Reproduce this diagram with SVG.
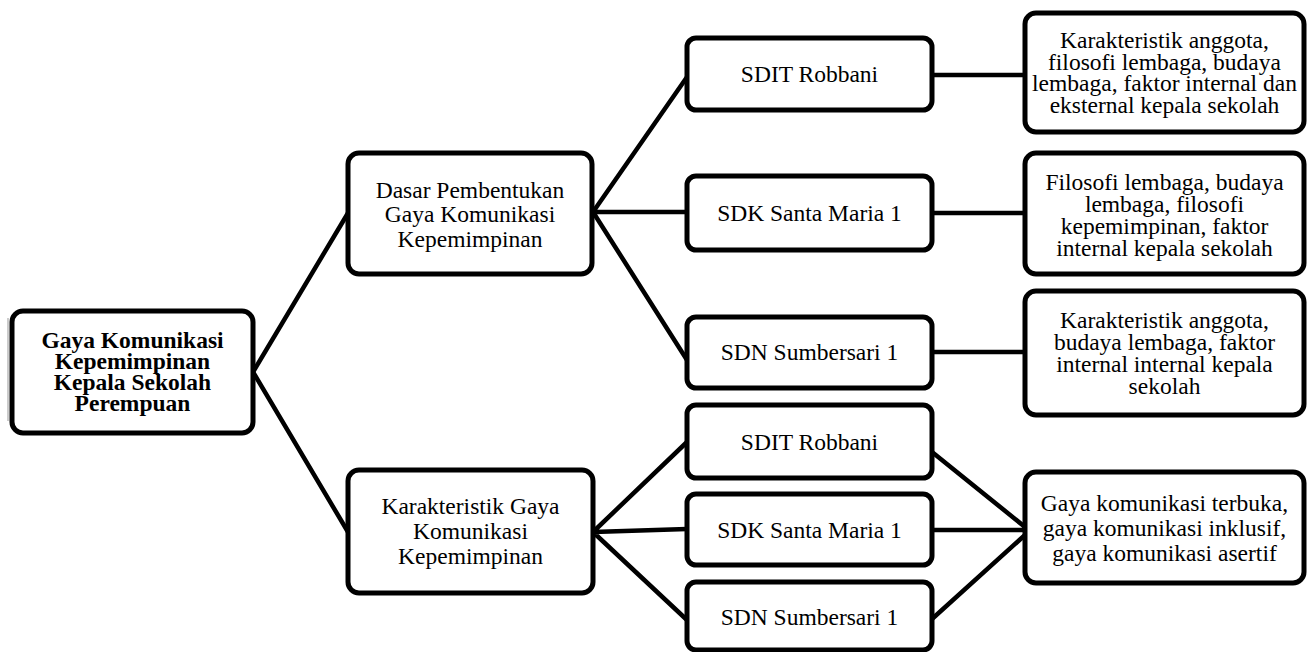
<svg xmlns="http://www.w3.org/2000/svg" width="1307" height="652" viewBox="0 0 1307 652">
<style>
.box{fill:#fff;stroke:#000;stroke-width:5}
.t{font-family:"Liberation Serif","Times New Roman",serif;font-size:23.5px;fill:#000;text-anchor:middle}
.b{font-weight:bold}
.c{stroke:#000;stroke-width:4.5;fill:none;stroke-linecap:round}
</style>
<rect width="1307" height="652" fill="#fff"/>
<line x1="8" y1="318" x2="8" y2="421" stroke="#aaa" stroke-width="1.2"/>
<g id="connectors">
<path class="c" d="M253 372 L348 213 M253 372 L348 532"/>
<path class="c" d="M593 212 L687 77 M593 212 L687 212 M593 212 L687 360"/>
<path class="c" d="M932 75 L1025 75 M932 213 L1025 213 M932 352 L1025 352"/>
<path class="c" d="M593 532 L687 442 M593 532 L687 529 M593 532 L687 620"/>
<path class="c" d="M932 452 L1025 527 M932 530 L1025 530 M932 619 L1025 535"/>
</g>
<g id="root">
<rect class="box" x="12" y="311" width="241" height="122" rx="11"/>
<text class="t b" x="132.5"><tspan x="132.5" y="348">Gaya Komunikasi</tspan><tspan x="132.5" y="369">Kepemimpinan</tspan><tspan x="132.5" y="390">Kepala Sekolah</tspan><tspan x="132.5" y="411">Perempuan</tspan></text>
</g>
<g id="dasar">
<rect class="box" x="348" y="153" width="244" height="121" rx="11"/>
<text class="t"><tspan x="470" y="197.5">Dasar Pembentukan</tspan><tspan x="470" y="222">Gaya Komunikasi</tspan><tspan x="470" y="246.5">Kepemimpinan</tspan></text>
</g>
<g id="karakteristik">
<rect class="box" x="348" y="470" width="245" height="123" rx="11"/>
<text class="t"><tspan x="470.5" y="514">Karakteristik Gaya</tspan><tspan x="470.5" y="539">Komunikasi</tspan><tspan x="470.5" y="564">Kepemimpinan</tspan></text>
</g>
<g id="sdit1">
<rect class="box" x="687" y="38" width="245" height="72" rx="9"/>
<text class="t" x="809.5" y="82">SDIT Robbani</text>
</g>
<g id="sdk1">
<rect class="box" x="687" y="176" width="245" height="74" rx="9"/>
<text class="t" x="809.5" y="221">SDK Santa Maria 1</text>
</g>
<g id="sdn1">
<rect class="box" x="687" y="317" width="245" height="71" rx="9"/>
<text class="t" x="809.5" y="360">SDN Sumbersari 1</text>
</g>
<g id="sdit2">
<rect class="box" x="687" y="405" width="245" height="73" rx="9"/>
<text class="t" x="809.5" y="449.5">SDIT Robbani</text>
</g>
<g id="sdk2">
<rect class="box" x="687" y="494" width="245" height="71" rx="9"/>
<text class="t" x="809.5" y="537.5">SDK Santa Maria 1</text>
</g>
<g id="sdn2">
<rect class="box" x="687" y="582" width="245" height="68" rx="9"/>
<text class="t" x="809.5" y="625">SDN Sumbersari 1</text>
</g>
<g id="hasil1">
<rect class="box" x="1025" y="13" width="279" height="119" rx="11"/>
<text class="t"><tspan x="1164.5" y="48">Karakteristik anggota,</tspan><tspan x="1164.5" y="69.7">filosofi lembaga, budaya</tspan><tspan x="1164.5" y="91.4">lembaga, faktor internal dan</tspan><tspan x="1164.5" y="113">eksternal kepala sekolah</tspan></text>
</g>
<g id="hasil2">
<rect class="box" x="1025" y="153" width="279" height="121" rx="11"/>
<text class="t"><tspan x="1164.5" y="190">Filosofi lembaga, budaya</tspan><tspan x="1164.5" y="212">lembaga, filosofi</tspan><tspan x="1164.5" y="234">kepemimpinan, faktor</tspan><tspan x="1164.5" y="256">internal kepala sekolah</tspan></text>
</g>
<g id="hasil3">
<rect class="box" x="1025" y="291" width="279" height="124" rx="11"/>
<text class="t"><tspan x="1164.5" y="327.5">Karakteristik anggota,</tspan><tspan x="1164.5" y="349.5">budaya lembaga, faktor</tspan><tspan x="1164.5" y="371.5">internal internal kepala</tspan><tspan x="1164.5" y="393.5">sekolah</tspan></text>
</g>
<g id="hasil4">
<rect class="box" x="1025" y="472" width="279" height="111" rx="11"/>
<text class="t"><tspan x="1164.5" y="510.5">Gaya komunikasi terbuka,</tspan><tspan x="1164.5" y="535.5">gaya komunikasi inklusif,</tspan><tspan x="1164.5" y="560.5">gaya komunikasi asertif</tspan></text>
</g>
</svg>
